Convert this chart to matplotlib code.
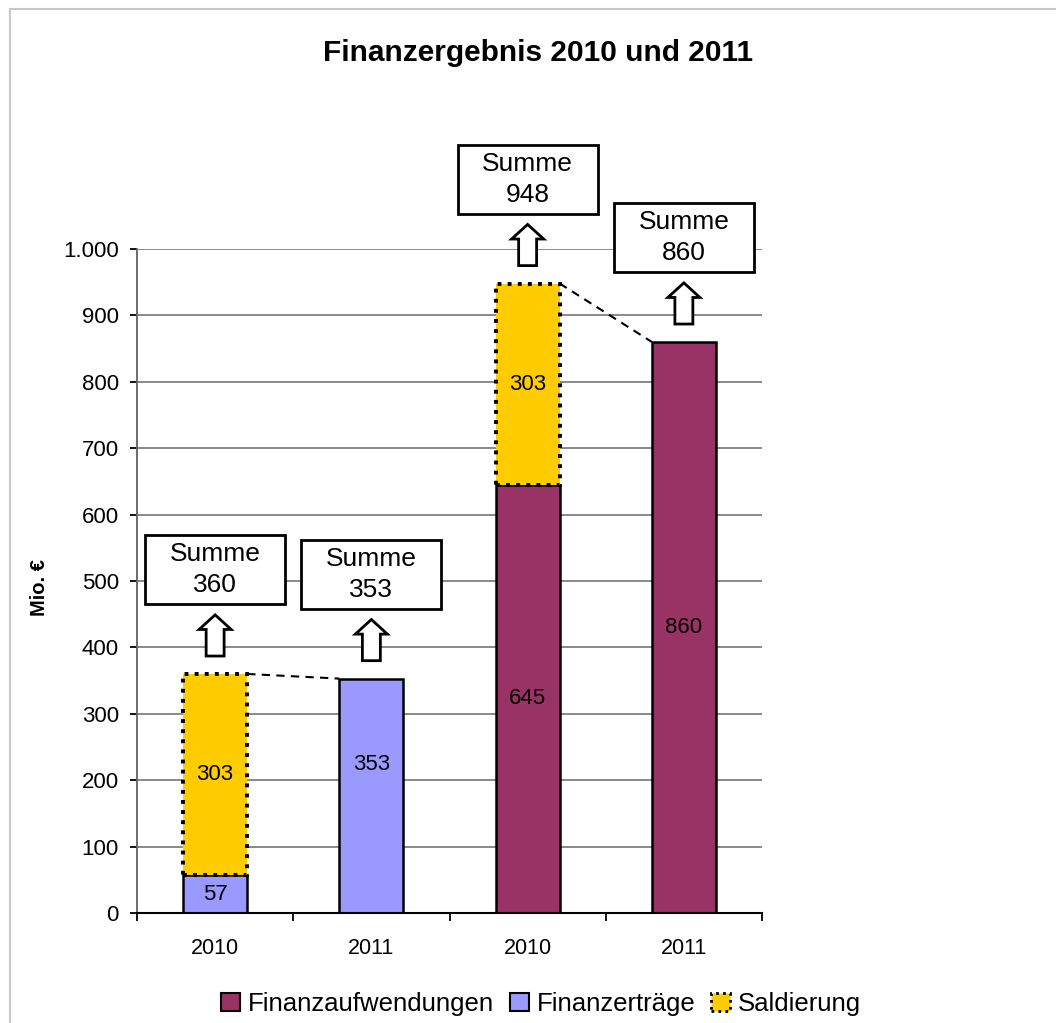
import numpy as np
from matplotlib import pyplot as plt
from matplotlib.patches import Rectangle, FancyArrow, Patch
from matplotlib.lines import Line2D

plt.rcParams['font.family'] = ['Liberation Sans', 'DejaVu Sans']

# Data
x_labels = ["2010", "2011", "2010", "2011"]
ertraege = [57, 353]          # Finanzerträge 2010, 2011
aufwendungen = [645, 860]     # Finanzaufwendungen 2010, 2011
saldierung = [303, 303]       # Saldierung on the 2010 bars
summen = [360, 353, 948, 860]

c_aufw = '#993366'
c_ertr = '#9999FF'
c_sald = '#FFCC00'

x = np.arange(len(x_labels))
width = 0.41

fig = plt.figure(figsize=(10.56, 10.23), dpi=100)
ax = fig.add_axes([137 / 1056, 110 / 1023, 625 / 1056, 664 / 1023])

# light frame around the chart area
fig.add_artist(Line2D([10 / 1056, 1], [1 - 9 / 1023] * 2, color='#c8c8c8', lw=1.5))
fig.add_artist(Line2D([10 / 1056] * 2, [0, 1 - 9 / 1023], color='#c8c8c8', lw=1.5))

ax.set_axisbelow(True)
ax.yaxis.grid(True, color='#808080', lw=1.3)

# bars
b_ertr = ax.bar(x[:2], ertraege, width, color=c_ertr, edgecolor='black', lw=1.8)
b_aufw = ax.bar(x[2:], aufwendungen, width, color=c_aufw, edgecolor='black', lw=1.8)
b_sald = ax.bar([x[0], x[2]], saldierung, width, bottom=[ertraege[0], aufwendungen[0]],
                color=c_sald, edgecolor='black', lw=2.8, linestyle=(0, (1, 1.6)))

# label height inside each segment (the 2011 Finanzerträge label sits higher)
label_pos = [(b_ertr, ertraege, [0.5, 0.635]),
             (b_aufw, aufwendungen, [0.5, 0.5]),
             (b_sald, saldierung, [0.5, 0.5])]
for rects, vals, fracs in label_pos:
    for r, v, f in zip(rects, vals, fracs):
        ax.text(r.get_x() + r.get_width() / 2, r.get_y() + r.get_height() * f, str(v),
                ha='center', va='center', fontsize=16, color='black')

# dashed connectors between the sums
ax.plot([x[0] + width / 2, x[1] - width / 2], [summen[0], summen[1]], ls=(0, (4, 3)), color='black', lw=1.5)
ax.plot([x[2] + width / 2, x[3] - width / 2], [summen[2], summen[3]], ls=(0, (4, 3)), color='black', lw=1.5)

# arrows and "Summe" boxes
box_w, box_h = 0.896, 104
for xi, s in zip(x, summen):
    arr = FancyArrow(xi, s + 27, 0, 62, width=0.115, head_width=0.205, head_length=22,
                     length_includes_head=True, facecolor='white', edgecolor='black', lw=2,
                     clip_on=False, zorder=5)
    ax.add_patch(arr)
    cy = s + 157
    ax.add_patch(Rectangle((xi - box_w / 2, cy - box_h / 2), box_w, box_h, facecolor='white',
                           edgecolor='black', lw=2, clip_on=False, zorder=5))
    ax.text(xi, cy, f'Summe\n{s}', ha='center', va='center', fontsize=19, linespacing=1.35,
            zorder=6, clip_on=False)

ax.set_xlim(-0.5, 3.5)
ax.set_ylim(0, 1000)
ax.set_yticks(np.arange(0, 1001, 100))
ax.set_yticklabels(['0', '100', '200', '300', '400', '500', '600', '700', '800', '900', '1.000'])
ax.set_xticks(x, x_labels)
ax.set_xticks(np.arange(-0.5, 3.6, 1), minor=True)
ax.tick_params(axis='x', which='major', length=0, pad=18, labelsize=15.5)
ax.tick_params(axis='x', which='minor', length=6, width=1.3, direction='out')
ax.tick_params(axis='y', length=5, width=1.3, pad=8, labelsize=16)

for side in ('top', 'right'):
    ax.spines[side].set_visible(False)
ax.spines['left'].set_color('#606060')
ax.spines['left'].set_linewidth(1.3)
ax.spines['bottom'].set_color('black')
ax.spines['bottom'].set_linewidth(1.5)

ax.set_ylabel('Mio. €', fontsize=14.5, fontweight='bold')
ax.yaxis.set_label_coords(-0.14, 0.49)
fig.text(538 / 1056, 1 - 53 / 1023, 'Finanzergebnis 2010 und 2011', ha='center', va='center',
         fontsize=21.5, fontweight='bold')

handles = [
    Patch(facecolor=c_aufw, edgecolor='black', lw=1.5),
    Patch(facecolor=c_ertr, edgecolor='black', lw=1.5),
    Patch(facecolor=c_sald, edgecolor='black', lw=2, linestyle=(0, (1, 1.5))),
]
fig.legend(handles, ['Finanzaufwendungen', 'Finanzerträge', 'Saldierung'],
           loc='center', bbox_to_anchor=(541 / 1056, 19 / 1023), ncols=3, frameon=False,
           fontsize=18.5, handlelength=0.75, handleheight=0.75, handletextpad=0.3,
           columnspacing=0.6)

fig.savefig('out.png', dpi=100)
